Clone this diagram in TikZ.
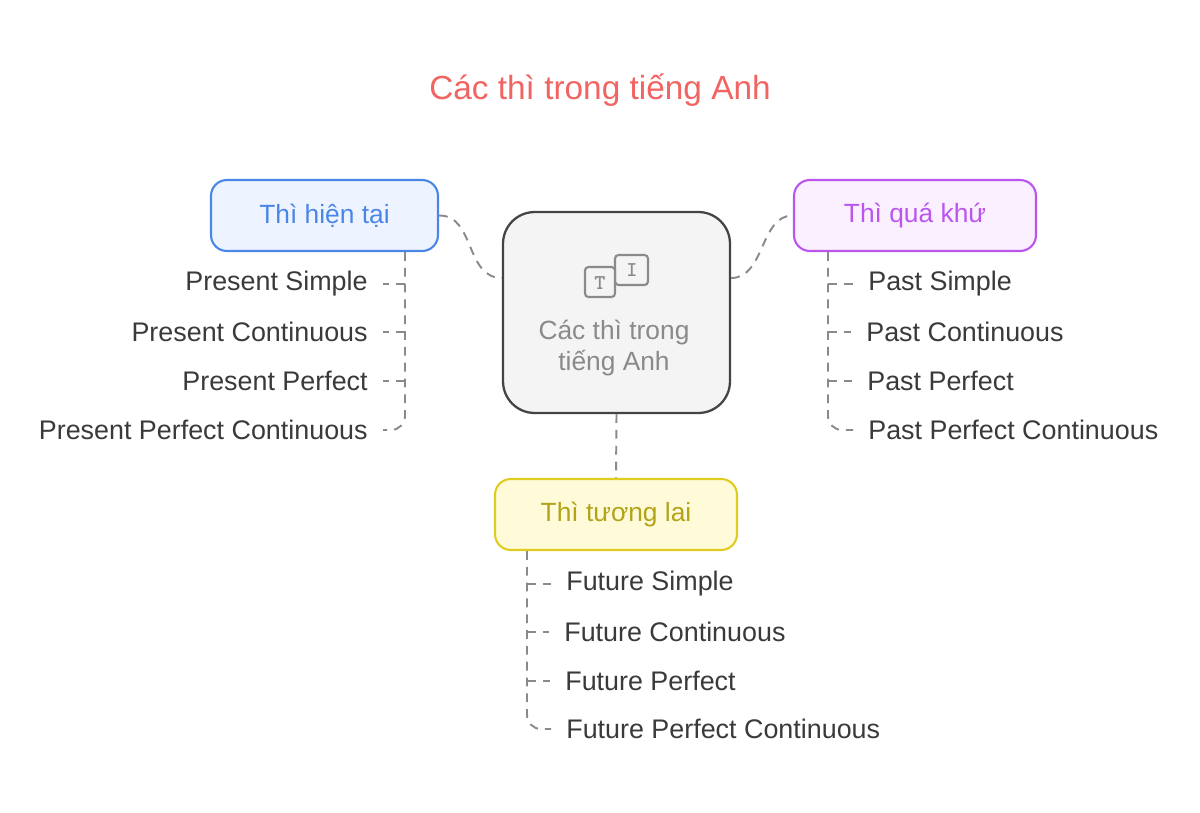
\documentclass[tikz,border=0pt]{standalone}
\usepackage{fontspec}
\setmainfont{Liberation Sans}
\usetikzlibrary{positioning}
\definecolor{titlered}{HTML}{F06462}
\definecolor{txtgray}{HTML}{3A3A3A}
\definecolor{linegray}{HTML}{8A8A8A}
\definecolor{hubfill}{HTML}{F4F4F4}
\definecolor{hubdraw}{HTML}{444444}
\definecolor{bluedraw}{HTML}{4A86E8}
\definecolor{bluefill}{HTML}{EEF4FF}
\definecolor{purpledraw}{HTML}{BB55EE}
\definecolor{purplefill}{HTML}{FBF0FF}
\definecolor{yellowdraw}{HTML}{E0CC20}
\definecolor{yellowfill}{HTML}{FFFAD8}
\tikzset{
  tensebox/.style={rounded corners=9pt,line width=1.2pt,minimum width=4.54cm,minimum height=1.42cm,font=\fontsize{15}{17}\selectfont},
  leaf/.style={font=\fontsize{15.3}{17}\selectfont,text=txtgray,inner sep=0pt},
  link/.style={linegray,dashed,dash pattern=on 5pt off 4pt,line width=1.1pt},
}
\begin{document}
\begin{tikzpicture}[x=0.02cm,y=-0.02cm]
\useasboundingbox (0,0) rectangle (1200,812);

\node[text=titlered,font=\fontsize{19}{22}\selectfont] (title) at (600,90) {Các thì trong tiếng Anh};

% hub
\node[rounded corners=18pt,fill=hubfill,draw=hubdraw,line width=1.3pt,minimum width=4.54cm,minimum height=4.02cm] (hub) at (616.5,312.5) {};
\node[text=linegray,font=\fontsize{15}{18}\selectfont,align=center] (hubtext) at (614,348) {Các thì trong\\tiếng Anh};
\draw[linegray,line width=1.2pt,rounded corners=2pt,fill=hubfill] (615,255) rectangle (648,285);
\draw[linegray,line width=1.2pt,rounded corners=2pt,fill=hubfill] (585,267) rectangle (615,297);
\node[text=linegray,font=\ttfamily\bfseries\large] (iconT) at (600,283) {T};
\node[text=linegray,font=\ttfamily\bfseries\large] (iconI) at (632,270) {I};

% tense boxes
\node[tensebox,draw=bluedraw,fill=bluefill,text=bluedraw] (present) at (324.5,215.5) {Thì hiện tại};
\node[tensebox,draw=purpledraw,fill=purplefill,text=purpledraw,minimum width=4.84cm] (past) at (915,215.5) {Thì quá khứ};
\node[tensebox,draw=yellowdraw,fill=yellowfill,text=yellowdraw!80!black,minimum width=4.84cm] (future) at (616,514.5) {Thì tương lai};

\draw[link] (present.east) .. controls (475,215) and (465,278) .. (hub.west |- 0,278);
\draw[link] (hub.east |- 0,278) .. controls (765,278) and (760,215) .. (past.west);
\draw[link] (hub.south) -- (future.north);

% present
\node[leaf,anchor=east] (p1) at (368,284) {Present Simple};
\node[leaf,anchor=east] (p2) at (368,332) {Present Continuous};
\node[leaf,anchor=east] (p3) at (368,381) {Present Perfect};
\node[leaf,anchor=east] (p4) at (368,430) {Present Perfect Continuous};
\draw[link,rounded corners=8pt] (present.south -| 405,0) -- (405,430) -- ([xshift=0.3cm]p4.east);
\foreach \n in {p1,p2,p3} \draw[link] (405,0 |- \n) -- ([xshift=0.3cm]\n.east);

% past
\node[leaf,anchor=west] (q1) at (868,284) {Past Simple};
\node[leaf,anchor=west] (q2) at (866,332) {Past Continuous};
\node[leaf,anchor=west] (q3) at (867,381) {Past Perfect};
\node[leaf,anchor=west] (q4) at (868,430) {Past Perfect Continuous};
\draw[link,rounded corners=8pt] (past.south -| 828,0) -- (828,430) -- ([xshift=-0.3cm]q4.west);
\foreach \n in {q1,q2,q3} \draw[link] (828,0 |- \n) -- ([xshift=-0.3cm]\n.west);

% future
\node[leaf,anchor=west] (f1) at (566,584) {Future Simple};
\node[leaf,anchor=west] (f2) at (564,632) {Future Continuous};
\node[leaf,anchor=west] (f3) at (565,681) {Future Perfect};
\node[leaf,anchor=west] (f4) at (566,729) {Future Perfect Continuous};
\draw[link,rounded corners=8pt] (future.south -| 527,0) -- (527,729) -- ([xshift=-0.3cm]f4.west);
\foreach \n in {f1,f2,f3} \draw[link] (527,0 |- \n) -- ([xshift=-0.3cm]\n.west);
\end{tikzpicture}
\end{document}
